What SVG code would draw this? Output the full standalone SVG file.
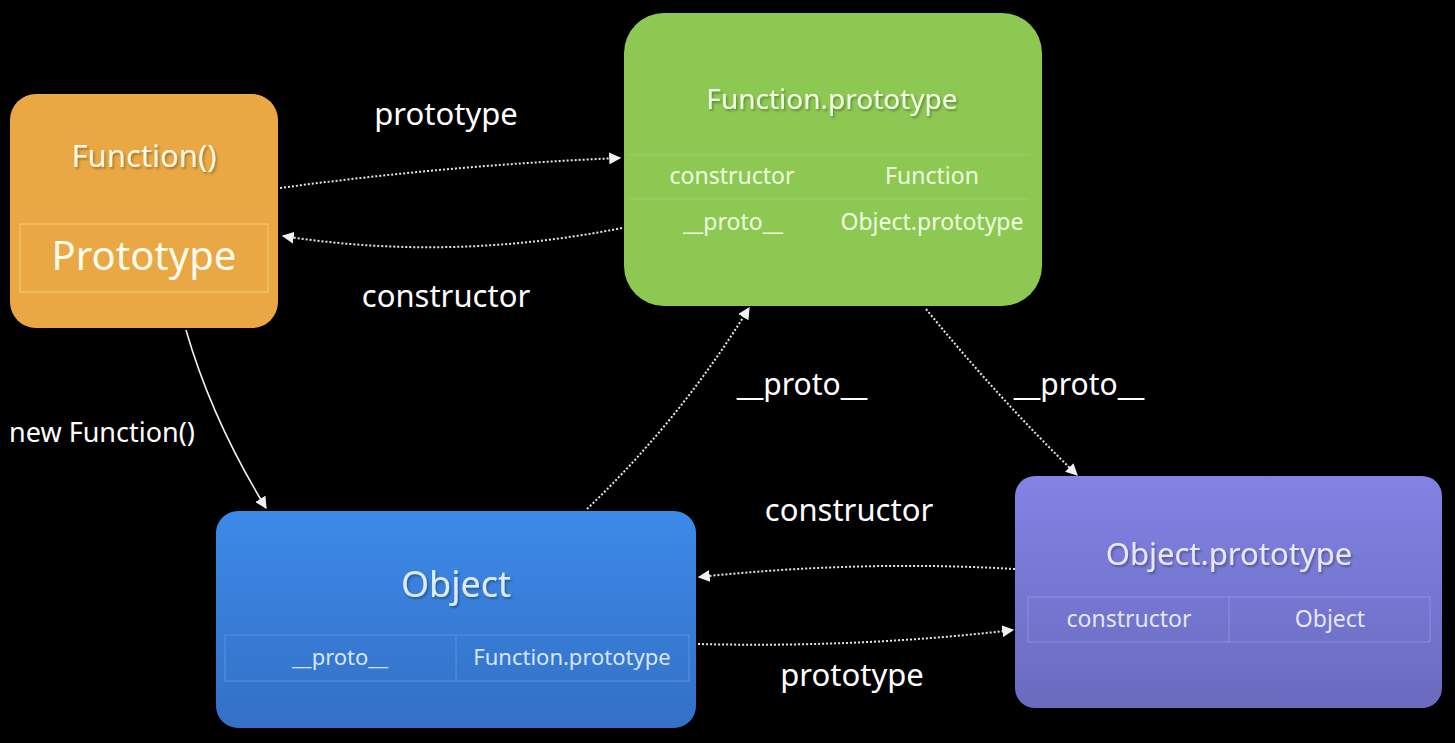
<svg xmlns="http://www.w3.org/2000/svg" width="1455" height="743" viewBox="0 0 1455 743">
  <style>
    text { font-family: "Noto Sans", "Liberation Sans", sans-serif; text-anchor: middle; }
    .lbl { fill: #ffffff; font-size: 31px; }
    .dot { fill: none; stroke: #e6e6e6; stroke-width: 2; stroke-dasharray: 2 2; }
    .solid { fill: none; stroke: #f2f2f2; stroke-width: 1.6; }
    .cell { fill: none; stroke-width: 1; }
  </style>
  <defs>
    <marker id="arr" viewBox="0 0 10 10" refX="9" refY="5" markerWidth="12" markerHeight="12" markerUnits="userSpaceOnUse" orient="auto">
      <path d="M0,0 L10,5 L0,10 z" fill="#f0f0f0"/>
    </marker>
    <linearGradient id="gBlue" x1="0" y1="0" x2="0" y2="1">
      <stop offset="0" stop-color="#3c8ae8"/>
      <stop offset="1" stop-color="#3470c6"/>
    </linearGradient>
    <linearGradient id="gPurple" x1="0" y1="0" x2="0" y2="1">
      <stop offset="0" stop-color="#8283e4"/>
      <stop offset="1" stop-color="#6a6bbf"/>
    </linearGradient>
    <filter id="sh" x="-10%" y="-30%" width="120%" height="160%">
      <feDropShadow dx="1.5" dy="2" stdDeviation="1" flood-color="#000" flood-opacity="0.3"/>
    </filter>
  </defs>

  <rect x="0" y="0" width="1455" height="743" fill="#000"/>

  <g id="node-function">
    <rect x="10" y="94" width="268" height="234" rx="26" fill="#e9a843"/>
    <text x="144" y="167" font-size="31" fill="#fff8e6" filter="url(#sh)">Function()</text>
    <rect x="20" y="224" width="248" height="68" class="cell" stroke="#f3c97c"/>
    <text x="144" y="270" font-size="40" fill="#fffbef">Prototype</text>
  </g>

  <g id="node-function-prototype">
    <rect x="624" y="13" width="418" height="293" rx="40" fill="#8cc852"/>
    <text x="832" y="109" font-size="28" fill="#f3ffe6" filter="url(#sh)">Function.prototype</text>
    <line x1="628" y1="155" x2="1030" y2="155" stroke="#98d062" stroke-width="1"/>
    <line x1="628" y1="199" x2="1030" y2="199" stroke="#98d062" stroke-width="1"/>
    <text x="732" y="184" font-size="23" fill="#f0ffe0">constructor</text>
    <text x="932" y="184" font-size="23" fill="#f0ffe0">Function</text>
    <text x="733" y="230" font-size="23" fill="#f0ffe0">__proto__</text>
    <text x="932" y="230" font-size="23" fill="#f0ffe0">Object.prototype</text>
  </g>

  <g id="node-object">
    <rect x="216" y="511" width="480" height="217" rx="22" fill="url(#gBlue)"/>
    <text x="456" y="597" font-size="36" fill="#dfecf8" filter="url(#sh)">Object</text>
    <rect x="225" y="635" width="464" height="46" class="cell" stroke="#5595e2"/>
    <line x1="456" y1="635" x2="456" y2="681" stroke="#5595e2" stroke-width="1"/>
    <text x="340" y="665" font-size="22" fill="#d6e6f6">__proto__</text>
    <text x="572" y="665" font-size="22" fill="#d6e6f6">Function.prototype</text>
  </g>

  <g id="node-object-prototype">
    <rect x="1015" y="476" width="427" height="232" rx="20" fill="url(#gPurple)"/>
    <text x="1229" y="565" font-size="31" fill="#e8e8f8" filter="url(#sh)">Object.prototype</text>
    <rect x="1028" y="597" width="402" height="45" class="cell" stroke="#8e8fe2"/>
    <line x1="1229" y1="597" x2="1229" y2="642" stroke="#8e8fe2" stroke-width="1"/>
    <text x="1129" y="627" font-size="23" fill="#e6e6f6">constructor</text>
    <text x="1330" y="627" font-size="23" fill="#e6e6f6">Object</text>
  </g>

  <g id="connectors">
    <path class="dot" d="M280,188 Q450,165 620,158" marker-end="url(#arr)"/>
    <path class="dot" d="M622,228 Q450,262 283,236" marker-end="url(#arr)"/>
    <path class="solid" d="M186,330 Q212,420 266,508" marker-end="url(#arr)"/>
    <path class="dot" d="M587,509 Q680,420 749,308" marker-end="url(#arr)"/>
    <path class="dot" d="M926,309 Q1000,400 1077,475" marker-end="url(#arr)"/>
    <path class="dot" d="M1015,569 Q860,560 699,577" marker-end="url(#arr)"/>
    <path class="dot" d="M698,644 Q860,648 1013,630" marker-end="url(#arr)"/>
  </g>

  <g id="labels">
    <text class="lbl" x="446" y="125">prototype</text>
    <text class="lbl" x="446" y="307">constructor</text>
    <text class="lbl" x="102" y="442" style="font-size:27px">new Function()</text>
    <text class="lbl" x="802" y="395" style="font-size:30px">__proto__</text>
    <text class="lbl" x="1079" y="395" style="font-size:30px">__proto__</text>
    <text class="lbl" x="849" y="521">constructor</text>
    <text class="lbl" x="852" y="686">prototype</text>
  </g>
</svg>
